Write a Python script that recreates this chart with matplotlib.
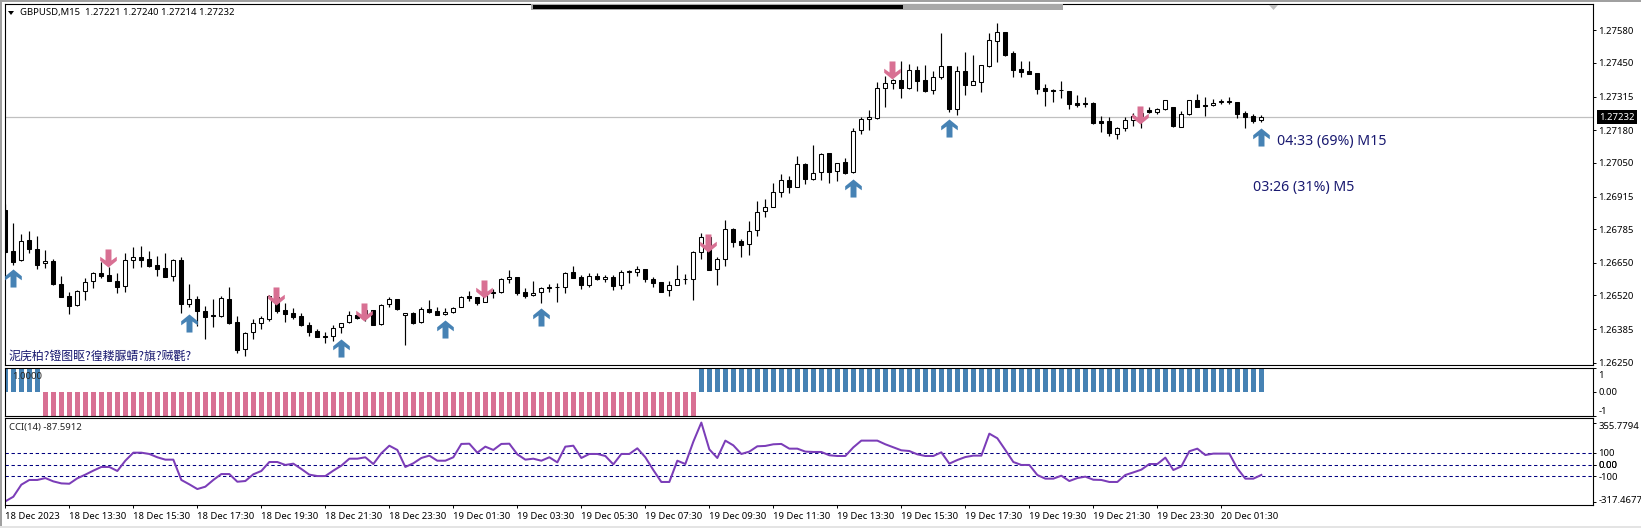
import matplotlib
matplotlib.use("Agg")
import matplotlib.pyplot as plt
import numpy as np
from matplotlib.patches import Rectangle, Polygon
from matplotlib.path import Path
from matplotlib.transforms import ScaledTranslation

W, H = 1641, 528

# prices in points (1e-5)
opens = [126861,126696,126660,126740,126704,126648,126657,126564,126516,126482,
         126536,126576,126608,126600,126576,126556,126660,126672,126664,126640,
         126628,126596,126660,126484,126504,126456,126440,126438,126504,126412,
         126304,126372,126410,126426,126514,126461,126448,126436,126400,126376,
         126356,126356,126392,126412,126441,126432,126460,126404,126484,126504,
         126440,126450,126412,126464,126456,126444,126452,126472,126516,126513,
         126492,126532,126532,126584,126592,126532,126520,126532,126550,126552,
         126552,126612,126592,126562,126596,126584,126592,126560,126614,126612,
         126624,126584,126572,126540,126562,126585,126584,126692,126752,126624,
         126664,126784,126736,126724,126780,126856,126872,126934,126981,126954,
         127045,126984,127012,127088,127016,127052,127012,127180,127224,127230,
         127348,127368,127380,127350,127420,127380,127340,127393,127437,127266,
         127417,127362,127374,127436,127538,127572,127488,127424,127416,127408,
         127348,127341,127341,127336,127288,127288,127289,127217,127217,127164,
         127188,127220,127236,127260,127254,127266,127272,127194,127244,127301,
         127280,127280,127293,127294,127292,127248,127237,127221]
highs = [126885,126808,126764,126777,126757,126701,126664,126597,126533,126541,
         126588,126612,126654,126632,126608,126688,126713,126717,126696,126676,
         126688,126664,126672,126565,126518,126477,126505,126518,126552,126437,
         126372,126424,126438,126521,126518,126488,126468,126448,126412,126384,
         126374,126401,126410,126457,126441,126461,126461,126484,126512,126506,
         126450,126452,126474,126501,126472,126469,126472,126516,126536,126514,
         126541,126545,126590,126621,126592,126549,126577,126552,126564,126568,
         126612,126637,126601,126608,126608,126601,126601,126620,126620,126637,
         126625,126592,126574,126576,126641,126604,126696,126768,126752,126674,
         126820,126788,126744,126816,126896,126904,126968,127005,126997,127077,
         127048,127121,127088,127088,127050,127068,127188,127234,127260,127372,
         127396,127385,127457,127444,127437,127441,127417,127569,127437,127437,
         127494,127481,127440,127569,127608,127572,127498,127457,127456,127408,
         127364,127346,127377,127336,127320,127312,127293,127236,127232,127194,
         127232,127248,127254,127274,127268,127301,127274,127256,127301,127325,
         127313,127304,127304,127312,127293,127256,127244,127240]
lows = [126690,126641,126658,126690,126626,126630,126561,126514,126445,126478,
        126501,126549,126588,126576,126530,126534,126629,126634,126634,126597,
        126592,126578,126450,126473,126397,126346,126394,126434,126404,126290,
        126278,126346,126386,126418,126448,126414,126424,126397,126358,126352,
        126328,126337,126370,126410,126426,126418,126402,126402,126474,126460,
        126322,126406,126410,126448,126442,126442,126450,126472,126498,126482,
        126492,126510,126530,126569,126522,126509,126518,126490,126533,126494,
        126530,126588,126546,126554,126581,126574,126542,126546,126570,126598,
        126574,126554,126534,126518,126560,126566,126501,126666,126622,126562,
        126638,126714,126674,126682,126758,126834,126872,126914,126928,126952,
        126965,126980,126980,126968,126978,127005,127010,127166,127181,127224,
        127274,127344,127310,127344,127338,127332,127326,127386,127254,127242,
        127322,127362,127334,127434,127454,127478,127393,127394,127405,127325,
        127277,127293,127309,127266,127272,127274,127206,127173,127156,127146,
        127178,127198,127190,127248,127245,127261,127194,127193,127242,127273,
        127238,127277,127285,127285,127229,127190,127210,127214]
closes = [126693,126654,126738,126704,126642,126656,126565,126514,126478,126536,
          126572,126608,126598,126576,126554,126660,126674,126662,126638,126626,
          126594,126660,126484,126504,126458,126434,126436,126508,126410,126301,
          126370,126410,126428,126518,126458,126446,126433,126401,126374,126354,
          126354,126390,126410,126440,126428,126461,126402,126482,126504,126466,
          126450,126410,126464,126454,126442,126452,126470,126514,126510,126490,
          126521,126530,126584,126592,126529,126518,126530,126550,126552,126553,
          126610,126590,126562,126596,126584,126594,126558,126612,126616,126624,
          126584,126570,126534,126562,126584,126586,126692,126752,126622,126666,
          126786,126734,126722,126778,126854,126872,126934,126981,126954,127044,
          126984,127010,127086,127014,127050,127010,127178,127224,127232,127348,
          127368,127380,127350,127420,127378,127338,127392,127436,127265,127416,
          127362,127376,127440,127540,127572,127481,127422,127414,127406,127346,
          127338,127336,127340,127286,127281,127286,127210,127210,127168,127188,
          127220,127236,127250,127253,127266,127300,127197,127244,127300,127274,
          127276,127290,127296,127296,127246,127233,127218,127232]

cci = [-311,-272,-170,-130,-130,-114,-142,-159,-162,-116,
       -85,-51,-20,-20,-54,33,101,101,90,62,
       42,42,-130,-167,-207,-187,-130,-80,-80,-145,
       -139,-82,-54,22,22,-3,8,-37,-85,-97,
       -97,-51,-9,50,50,62,5,96,160,124,
       -20,11,56,76,33,33,62,175,177,101,
       152,124,175,177,87,42,50,33,62,19,
       152,160,56,90,90,73,2,90,90,138,
       62,-46,-147,-147,33,5,194,355.78,129,56,
       203,163,90,110,155,158,172,175,135,135,
       110,107,107,79,73,73,146,203,203,203,
       172,146,121,115,87,73,73,104,8,39,
       64,76,76,262,223,124,22,-3,-3,-88,
       -119,-119,-94,-139,-114,-102,-128,-130,-147,-147,
       -88,-66,-43,5,5,59,-46,-15,113,135,
       81,93,93,93,-32,-119,-119,-87.59]

trend = [1]*5 + [-1]*82 + [1]*71

up_bars = [1, 23, 42, 55, 67, 106, 118, 157]
up_prices = [1.26588, 1.26411, 1.26311, 1.26387, 1.26435, 1.26951, 1.27191, 1.27155]
down_bars = [13, 34, 45, 60, 88, 111, 142]
down_prices = [1.26669, 1.26519, 1.26455, 1.26545, 1.26731, 1.27421, 1.27241]

price_ticks = [1.27580, 1.27450, 1.27315, 1.27180, 1.27050, 1.26915, 1.26785,
               1.26650, 1.26520, 1.26385, 1.26250]
time_ticks = list(range(0, 160, 8))
time_labels = ["18 Dec 2023", "18 Dec 13:30", "18 Dec 15:30", "18 Dec 17:30",
               "18 Dec 19:30", "18 Dec 21:30", "18 Dec 23:30", "19 Dec 01:30",
               "19 Dec 03:30", "19 Dec 05:30", "19 Dec 07:30", "19 Dec 09:30",
               "19 Dec 11:30", "19 Dec 13:30", "19 Dec 15:30", "19 Dec 17:30",
               "19 Dec 19:30", "19 Dec 21:30", "19 Dec 23:30", "20 Dec 01:30"]

BLUE = "#4682B4"
PINK = "#D87093"
NAVY = "#191970"
SMALL = 6.85

plt.rcParams['font.family'] = ['Noto Sans', 'DejaVu Sans']
plt.rcParams['font.size'] = SMALL
plt.rcParams['axes.linewidth'] = 0.8
plt.rcParams['xtick.major.width'] = 0.7
plt.rcParams['ytick.major.width'] = 0.7
plt.rcParams['xtick.major.size'] = 2.4
plt.rcParams['ytick.major.size'] = 2.4
plt.rcParams['ytick.major.pad'] = 1.6

fig = plt.figure(figsize=(W / 100, H / 100), dpi=100, facecolor="white")


def pane(left, top, right, bottom):
    ax = fig.add_axes([left / W, 1 - bottom / H, (right - left) / W, (bottom - top) / H])
    ax.set_xlim((left - 5.33) / 8, (right - 5.33) / 8)
    ax.yaxis.tick_right()
    ax.set_xticks([])
    return ax


def nudge(label, dx=0, dy=0):
    # move a tick label by some pixels
    label.set_transform(label.get_transform()
                        + ScaledTranslation(dx / 100, dy / 100, fig.dpi_scale_trans))


x = np.arange(len(closes))
o = np.array(opens) / 1e5
h = np.array(highs) / 1e5
l = np.array(lows) / 1e5
c = np.array(closes) / 1e5

# price pane
ax = pane(4.5, 4.3, 1593, 365)
ax.set_ylim(1.262412, 1.27684)
ax.axhline(c[-1], color="#c0c0c0", lw=0.9, zorder=1)
ax.vlines(x, l, h, color="black", lw=0.85, zorder=2)
faces = ["white" if cl >= op else "black" for op, cl in zip(o, c)]
ax.bar(x, np.abs(c - o), bottom=np.minimum(o, c), width=0.5, color=faces,
       edgecolor="black", linewidth=0.75, zorder=3)

up_arrow = Path([(0, 1), (0.92, 0.25), (0.92, -0.2), (0.33, 0.22), (0.33, -1), (-0.33, -1),
                 (-0.33, 0.22), (-0.92, -0.2), (-0.92, 0.25), (0, 1)], closed=True)
down_arrow = Path(up_arrow.vertices * [1, -1], closed=True)
ax.plot(up_bars, up_prices, ls="none", marker=up_arrow, ms=13, mfc=BLUE, mec="none", zorder=4)
ax.plot(np.array(down_bars) - 0.15, down_prices, ls="none", marker=down_arrow, ms=13,
        mfc=PINK, mec="none", zorder=4)

ax.set_yticks(price_ticks)
ax.set_yticklabels(["%.5f" % p for p in price_ticks])
ax.text(1.0040, c[-1], "%.5f" % c[-1], transform=ax.get_yaxis_transform(), color="white",
        va="center", ha="left", fontsize=SMALL,
        bbox=dict(facecolor="black", edgecolor="none", pad=1.8), zorder=6)

fig.text(20 / W, 1 - 12.5 / H, "GBPUSD,M15  1.27221 1.27240 1.27214 1.27232", va="center",
         fontsize=SMALL, color="black")
fig.add_artist(Polygon([(8 / W, 1 - 11 / H), (14 / W, 1 - 11 / H), (11 / W, 1 - 15 / H)],
                       transform=fig.transFigure, fc="black", ec="none"))
fig.text(1277 / W, 1 - 141.5 / H, "04:33 (69%) M15", va="center", fontsize=10.2, color=NAVY)
fig.text(1253 / W, 1 - 188 / H, "03:26 (31%) M5", va="center", fontsize=10.2, color=NAVY)
fig.text(9 / W, 1 - 356 / H, "泥庑柏?镫图眍?徨耧脲蜻?旗?贼氍?", va="center", fontsize=8.6,
         color=NAVY, family=['Noto Sans CJK SC', 'DejaVu Sans'])

# trend histogram pane
ax2 = pane(4.5, 367.5, 1593, 416)
ax2.set_ylim(-1, 1)
ax2.bar(x, trend, width=0.625, color=[BLUE if t > 0 else PINK for t in trend])
ax2.set_yticks([1, 0, -1])
ax2.set_yticklabels(["1", "0.00", "-1"])
labels = ax2.get_yticklabels()
nudge(labels[0], dy=-6.8)
nudge(labels[2], dy=6)
fig.text(12 / W, 1 - 376.7 / H, "1.0000", va="center", fontsize=SMALL, color="#222222")

# CCI pane
ax3 = pane(4.5, 418.3, 1593, 505)
ax3.set_ylim(-342, 392)
for level in [100, 0, -100]:
    ax3.axhline(level, color="#000080", lw=0.75, dashes=(3.2, 2.6), zorder=1)
ax3.plot(x, cci, color="#7B3DB8", lw=1.45, zorder=2, solid_joinstyle="round")
ax3.set_yticks([355.7794, 100, 0, 0, -100, -317.4677])
ax3.set_yticklabels(["355.7794", "100", "0", "0.00", "-100", "-317.4677"])
cci_labels = ax3.get_yticklabels()
nudge(cci_labels[0], dy=-3)
nudge(cci_labels[5], dy=3)
ax3.set_xticks(time_ticks)
ax3.set_xticklabels(time_labels)
for t in ax3.get_xticklabels():
    t.set_ha("left")
    nudge(t, dx=-2)
ax3.tick_params(axis="x", pad=2.4)
fig.text(9 / W, 1 - 427.5 / H, "CCI(14) -87.5912", va="center", fontsize=SMALL, color="#222222")

# window chrome around the panes
def chrome(x0, y0, x1, y1, color):
    fig.add_artist(Rectangle((x0 / W, 1 - y1 / H), (x1 - x0) / W, (y1 - y0) / H,
                             transform=fig.transFigure, fc=color, ec="none", zorder=10))


chrome(0, 0, W, 1.6, "#a0a0a0")
chrome(0, 0, 1.8, H, "#a0a0a0")
chrome(0, 526, W, H, "#e4e4e4")
chrome(531, 4.4, 1063, 9.6, "#a8a8a8")
chrome(533, 5, 903, 8.8, "#000000")
fig.add_artist(Polygon([(1269 / W, 1 - 5 / H), (1278 / W, 1 - 5 / H), (1273.5 / W, 1 - 10 / H)],
                       transform=fig.transFigure, fc="#c0c0c0", ec="none", zorder=10))

fig.savefig("out.png", dpi=100)
